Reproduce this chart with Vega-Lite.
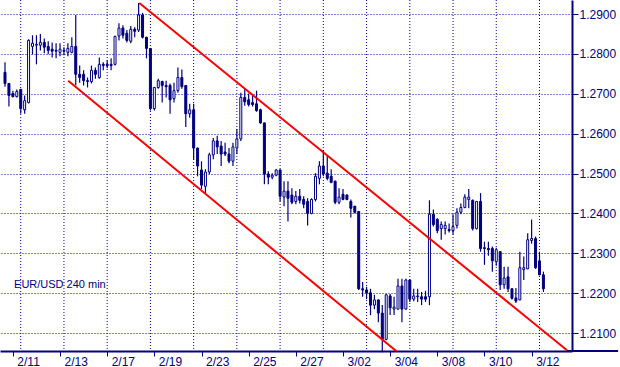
{
  "$schema": "https://vega.github.io/schema/vega-lite/v6.json",
  "width": 572,
  "height": 351,
  "autosize": {"type": "none"},
  "padding": {"left": 0, "top": 0, "right": 48, "bottom": 16},
  "background": "white",
  "config": {
    "view": {"stroke": null},
    "font": "Liberation Sans"
  },
  "datasets": {
    "candles": [
      {"k":0,"o":1.2754,"h":1.2779,"l":1.2718,"c":1.2726},
      {"k":1,"o":1.2726,"h":1.2727,"l":1.2668,"c":1.2696},
      {"k":2,"o":1.2701,"h":1.2708,"l":1.2691,"c":1.2693},
      {"k":3,"o":1.2693,"h":1.2711,"l":1.2691,"c":1.2706},
      {"k":4,"o":1.2711,"h":1.2713,"l":1.2650,"c":1.2663},
      {"k":5,"o":1.2660,"h":1.2696,"l":1.2650,"c":1.2683},
      {"k":6,"o":1.2678,"h":1.2837,"l":1.2676,"c":1.2834},
      {"k":7,"o":1.2819,"h":1.2847,"l":1.2799,"c":1.2827},
      {"k":8,"o":1.2822,"h":1.2847,"l":1.2774,"c":1.2824},
      {"k":9,"o":1.2822,"h":1.2850,"l":1.2809,"c":1.2829},
      {"k":10,"o":1.2829,"h":1.2839,"l":1.2802,"c":1.2817},
      {"k":11,"o":1.2819,"h":1.2832,"l":1.2799,"c":1.2809},
      {"k":12,"o":1.2812,"h":1.2829,"l":1.2791,"c":1.2807},
      {"k":13,"o":1.2809,"h":1.2827,"l":1.2789,"c":1.2807},
      {"k":14,"o":1.2804,"h":1.2827,"l":1.2794,"c":1.2812},
      {"k":15,"o":1.2809,"h":1.2817,"l":1.2797,"c":1.2807},
      {"k":16,"o":1.2804,"h":1.2827,"l":1.2794,"c":1.2814},
      {"k":17,"o":1.2804,"h":1.2842,"l":1.2802,"c":1.2819},
      {"k":18,"o":1.2819,"h":1.2898,"l":1.2721,"c":1.2749},
      {"k":19,"o":1.2749,"h":1.2771,"l":1.2728,"c":1.2741},
      {"k":20,"o":1.2749,"h":1.2759,"l":1.2721,"c":1.2733},
      {"k":21,"o":1.2733,"h":1.2741,"l":1.2716,"c":1.2731},
      {"k":22,"o":1.2731,"h":1.2771,"l":1.2726,"c":1.2759},
      {"k":23,"o":1.2759,"h":1.2766,"l":1.2738,"c":1.2749},
      {"k":24,"o":1.2741,"h":1.2791,"l":1.2738,"c":1.2774},
      {"k":25,"o":1.2774,"h":1.2779,"l":1.2759,"c":1.2771},
      {"k":26,"o":1.2774,"h":1.2784,"l":1.2764,"c":1.2771},
      {"k":27,"o":1.2774,"h":1.2789,"l":1.2759,"c":1.2771},
      {"k":28,"o":1.2774,"h":1.2846,"l":1.2771,"c":1.2844},
      {"k":29,"o":1.2845,"h":1.2877,"l":1.2834,"c":1.2865},
      {"k":30,"o":1.2865,"h":1.2872,"l":1.2839,"c":1.2847},
      {"k":31,"o":1.2852,"h":1.2860,"l":1.2829,"c":1.2834},
      {"k":32,"o":1.2832,"h":1.2870,"l":1.2827,"c":1.2862},
      {"k":33,"o":1.2862,"h":1.2867,"l":1.2842,"c":1.2857},
      {"k":34,"o":1.2860,"h":1.2928,"l":1.2855,"c":1.2898},
      {"k":35,"o":1.2898,"h":1.2903,"l":1.2839,"c":1.2842},
      {"k":36,"o":1.2842,"h":1.2843,"l":1.2789,"c":1.2814},
      {"k":37,"o":1.2814,"h":1.2815,"l":1.2658,"c":1.2663},
      {"k":38,"o":1.2663,"h":1.2717,"l":1.2658,"c":1.2716},
      {"k":39,"o":1.2716,"h":1.2738,"l":1.2713,"c":1.2733},
      {"k":40,"o":1.2731,"h":1.2733,"l":1.2678,"c":1.2721},
      {"k":41,"o":1.2721,"h":1.2733,"l":1.2691,"c":1.2718},
      {"k":42,"o":1.2721,"h":1.2726,"l":1.2650,"c":1.2685},
      {"k":43,"o":1.2688,"h":1.2728,"l":1.2678,"c":1.2708},
      {"k":44,"o":1.2708,"h":1.2766,"l":1.2703,"c":1.2741},
      {"k":45,"o":1.2741,"h":1.2761,"l":1.2713,"c":1.2718},
      {"k":46,"o":1.2721,"h":1.2722,"l":1.2617,"c":1.2650},
      {"k":47,"o":1.2650,"h":1.2675,"l":1.2640,"c":1.2660},
      {"k":48,"o":1.2660,"h":1.2675,"l":1.2534,"c":1.2564},
      {"k":49,"o":1.2564,"h":1.2565,"l":1.2493,"c":1.2519},
      {"k":50,"o":1.2509,"h":1.2531,"l":1.2461,"c":1.2471},
      {"k":51,"o":1.2468,"h":1.2511,"l":1.2451,"c":1.2504},
      {"k":52,"o":1.2504,"h":1.2552,"l":1.2499,"c":1.2547},
      {"k":53,"o":1.2547,"h":1.2589,"l":1.2536,"c":1.2582},
      {"k":54,"o":1.2582,"h":1.2595,"l":1.2549,"c":1.2567},
      {"k":55,"o":1.2569,"h":1.2582,"l":1.2519,"c":1.2549},
      {"k":56,"o":1.2554,"h":1.2577,"l":1.2544,"c":1.2549},
      {"k":57,"o":1.2549,"h":1.2564,"l":1.2526,"c":1.2531},
      {"k":58,"o":1.2531,"h":1.2577,"l":1.2519,"c":1.2567},
      {"k":59,"o":1.2564,"h":1.2612,"l":1.2549,"c":1.2587},
      {"k":60,"o":1.2587,"h":1.2703,"l":1.2582,"c":1.2691},
      {"k":61,"o":1.2691,"h":1.2713,"l":1.2670,"c":1.2680},
      {"k":62,"o":1.2685,"h":1.2701,"l":1.2668,"c":1.2673},
      {"k":63,"o":1.2678,"h":1.2696,"l":1.2668,"c":1.2673},
      {"k":64,"o":1.2675,"h":1.2708,"l":1.2655,"c":1.2658},
      {"k":65,"o":1.2660,"h":1.2663,"l":1.2625,"c":1.2627},
      {"k":66,"o":1.2627,"h":1.2628,"l":1.2473,"c":1.2499},
      {"k":67,"o":1.2499,"h":1.2506,"l":1.2473,"c":1.2491},
      {"k":68,"o":1.2491,"h":1.2501,"l":1.2486,"c":1.2496},
      {"k":69,"o":1.2496,"h":1.2511,"l":1.2493,"c":1.2509},
      {"k":70,"o":1.2509,"h":1.2511,"l":1.2430,"c":1.2443},
      {"k":71,"o":1.2441,"h":1.2481,"l":1.2418,"c":1.2456},
      {"k":72,"o":1.2456,"h":1.2481,"l":1.2380,"c":1.2438},
      {"k":73,"o":1.2446,"h":1.2463,"l":1.2423,"c":1.2428},
      {"k":74,"o":1.2430,"h":1.2456,"l":1.2423,"c":1.2443},
      {"k":75,"o":1.2443,"h":1.2461,"l":1.2425,"c":1.2433},
      {"k":76,"o":1.2435,"h":1.2443,"l":1.2413,"c":1.2423},
      {"k":77,"o":1.2430,"h":1.2438,"l":1.2370,"c":1.2400},
      {"k":78,"o":1.2400,"h":1.2438,"l":1.2398,"c":1.2435},
      {"k":79,"o":1.2435,"h":1.2501,"l":1.2430,"c":1.2493},
      {"k":80,"o":1.2488,"h":1.2531,"l":1.2473,"c":1.2519},
      {"k":81,"o":1.2519,"h":1.2559,"l":1.2493,"c":1.2499},
      {"k":82,"o":1.2501,"h":1.2544,"l":1.2483,"c":1.2488},
      {"k":83,"o":1.2493,"h":1.2511,"l":1.2476,"c":1.2478},
      {"k":84,"o":1.2481,"h":1.2482,"l":1.2423,"c":1.2428},
      {"k":85,"o":1.2428,"h":1.2463,"l":1.2423,"c":1.2441},
      {"k":86,"o":1.2448,"h":1.2461,"l":1.2433,"c":1.2435},
      {"k":87,"o":1.2446,"h":1.2448,"l":1.2433,"c":1.2435},
      {"k":88,"o":1.2430,"h":1.2435,"l":1.2390,"c":1.2413},
      {"k":89,"o":1.2418,"h":1.2419,"l":1.2400,"c":1.2403},
      {"k":90,"o":1.2405,"h":1.2406,"l":1.2208,"c":1.2211},
      {"k":91,"o":1.2211,"h":1.2228,"l":1.2191,"c":1.2208},
      {"k":92,"o":1.2208,"h":1.2216,"l":1.2185,"c":1.2201},
      {"k":93,"o":1.2201,"h":1.2211,"l":1.2145,"c":1.2170},
      {"k":94,"o":1.2170,"h":1.2196,"l":1.2160,"c":1.2183},
      {"k":95,"o":1.2183,"h":1.2184,"l":1.2127,"c":1.2150},
      {"k":96,"o":1.2150,"h":1.2170,"l":1.2052,"c":1.2084},
      {"k":97,"o":1.2084,"h":1.2197,"l":1.2082,"c":1.2196},
      {"k":98,"o":1.2193,"h":1.2198,"l":1.2145,"c":1.2163},
      {"k":99,"o":1.2160,"h":1.2191,"l":1.2145,"c":1.2165},
      {"k":100,"o":1.2160,"h":1.2236,"l":1.2159,"c":1.2218},
      {"k":101,"o":1.2218,"h":1.2236,"l":1.2127,"c":1.2160},
      {"k":102,"o":1.2160,"h":1.2236,"l":1.2159,"c":1.2233},
      {"k":103,"o":1.2233,"h":1.2234,"l":1.2178,"c":1.2185},
      {"k":104,"o":1.2185,"h":1.2211,"l":1.2180,"c":1.2193},
      {"k":105,"o":1.2191,"h":1.2211,"l":1.2178,"c":1.2193},
      {"k":106,"o":1.2191,"h":1.2203,"l":1.2170,"c":1.2185},
      {"k":107,"o":1.2191,"h":1.2206,"l":1.2178,"c":1.2185},
      {"k":108,"o":1.2191,"h":1.2433,"l":1.2170,"c":1.2398},
      {"k":109,"o":1.2398,"h":1.2410,"l":1.2367,"c":1.2372},
      {"k":110,"o":1.2385,"h":1.2388,"l":1.2350,"c":1.2357},
      {"k":111,"o":1.2362,"h":1.2380,"l":1.2334,"c":1.2372},
      {"k":112,"o":1.2362,"h":1.2380,"l":1.2347,"c":1.2370},
      {"k":113,"o":1.2360,"h":1.2375,"l":1.2352,"c":1.2357},
      {"k":114,"o":1.2357,"h":1.2398,"l":1.2347,"c":1.2367},
      {"k":115,"o":1.2370,"h":1.2413,"l":1.2362,"c":1.2403},
      {"k":116,"o":1.2403,"h":1.2425,"l":1.2398,"c":1.2415},
      {"k":117,"o":1.2415,"h":1.2448,"l":1.2413,"c":1.2441},
      {"k":118,"o":1.2435,"h":1.2461,"l":1.2413,"c":1.2441},
      {"k":119,"o":1.2433,"h":1.2435,"l":1.2357,"c":1.2362},
      {"k":120,"o":1.2362,"h":1.2431,"l":1.2360,"c":1.2430},
      {"k":121,"o":1.2430,"h":1.2451,"l":1.2304,"c":1.2312},
      {"k":122,"o":1.2314,"h":1.2329,"l":1.2271,"c":1.2312},
      {"k":123,"o":1.2312,"h":1.2329,"l":1.2294,"c":1.2309},
      {"k":124,"o":1.2312,"h":1.2317,"l":1.2254,"c":1.2281},
      {"k":125,"o":1.2279,"h":1.2314,"l":1.2269,"c":1.2309},
      {"k":126,"o":1.2304,"h":1.2305,"l":1.2208,"c":1.2221},
      {"k":127,"o":1.2221,"h":1.2266,"l":1.2211,"c":1.2238},
      {"k":128,"o":1.2241,"h":1.2266,"l":1.2203,"c":1.2211},
      {"k":129,"o":1.2211,"h":1.2213,"l":1.2184,"c":1.2187},
      {"k":130,"o":1.2188,"h":1.2213,"l":1.2175,"c":1.2180},
      {"k":131,"o":1.2183,"h":1.2304,"l":1.2182,"c":1.2264},
      {"k":132,"o":1.2259,"h":1.2292,"l":1.2233,"c":1.2264},
      {"k":133,"o":1.2261,"h":1.2350,"l":1.2260,"c":1.2334},
      {"k":134,"o":1.2332,"h":1.2385,"l":1.2324,"c":1.2337},
      {"k":135,"o":1.2337,"h":1.2342,"l":1.2261,"c":1.2264},
      {"k":136,"o":1.2281,"h":1.2304,"l":1.2245,"c":1.2246},
      {"k":137,"o":1.2246,"h":1.2254,"l":1.2203,"c":1.2211}
    ],
    "channel": [
      {"line":"upper","k":34.17,"p":1.2928},
      {"line":"upper","k":143,"p":1.2057},
      {"line":"lower","k":16.08,"p":1.2733},
      {"line":"lower","k":100.5,"p":1.2047}
    ],
    "vgrid": [
      {"k":4},{"k":15},{"k":26},{"k":37},{"k":48},{"k":59},{"k":70},
      {"k":81},{"k":92},{"k":103},{"k":114},{"k":125},{"k":136}
    ],
    "caption": [
      {"label": "EUR/USD 240 min"}
    ]
  },
  "layer": [
    {
      "data": {"name": "vgrid"},
      "mark": {"type": "rule", "color": "#0000A0", "strokeWidth": 1, "strokeDash": [1, 2]},
      "encoding": {
        "x": {
          "field": "k", "type": "quantitative",
          "scale": {"domain": [0, 143], "nice": false, "zero": false},
          "axis": {
            "orient": "bottom",
            "values": [2,8,14,20,26,32,38,44,50,56,62,68,74,80,86,92,98,104,110,116,122,128,134,140],
            "labelExpr": "['2/11','','2/13','','2/17','','2/19','','2/23','','2/25','','2/27','','3/02','','3/04','','3/08','','3/10','','3/12',''][round((datum.value-2)/6)]",
            "grid": false,
            "title": null,
            "domainColor": "#000080",
            "domainWidth": 2,
            "tickColor": "#000080",
            "tickWidth": 1,
            "tickSize": 5,
            "labelColor": "#000080",
            "labelFont": "Liberation Sans",
            "labelFontSize": 12,
            "labelAlign": "left",
            "labelOffset": 4,
            "labelPadding": 0,
            "labelOverlap": false,
            "labelBound": false,
            "labelFlush": false
          }
        }
      }
    },
    {
      "data": {"name": "candles"},
      "mark": {"type": "rule", "color": "#000080", "strokeWidth": 1.2},
      "encoding": {
        "x": {"field": "k", "type": "quantitative"},
        "y": {
          "field": "l", "type": "quantitative",
          "scale": {"domain": [1.20549, 1.29354], "nice": false, "zero": false},
          "axis": {
            "orient": "right",
            "values": [1.21, 1.22, 1.23, 1.24, 1.25, 1.26, 1.27, 1.28, 1.29],
            "format": ".4f",
            "title": null,
            "grid": true,
            "gridColor": "#0000A0",
            "gridDash": [1, 2],
            "gridWidth": 1,
            "domainColor": "#000080",
            "domainWidth": 2,
            "tickColor": "#000080",
            "tickWidth": 1,
            "tickSize": 6,
            "labelColor": "#000080",
            "labelFont": "Liberation Sans",
            "labelFontSize": 12,
            "labelPadding": 1,
            "labelOverlap": false,
            "labelBound": false,
            "labelFlush": false
          }
        },
        "y2": {"field": "h"}
      }
    },
    {
      "data": {"name": "candles"},
      "mark": {"type": "bar", "size": 2, "stroke": "#000080", "strokeWidth": 1},
      "encoding": {
        "x": {"field": "k", "type": "quantitative"},
        "y": {"field": "o", "type": "quantitative"},
        "y2": {"field": "c"},
        "fill": {
          "condition": {"test": "datum.c > datum.o", "value": "white"},
          "value": "#000080"
        }
      }
    },
    {
      "data": {"name": "channel"},
      "mark": {"type": "line", "color": "#FF0000", "strokeWidth": 2, "clip": true},
      "encoding": {
        "x": {"field": "k", "type": "quantitative"},
        "y": {"field": "p", "type": "quantitative"},
        "detail": {"field": "line"}
      }
    },
    {
      "data": {"name": "caption"},
      "mark": {"type": "text", "align": "left", "baseline": "middle", "font": "Liberation Sans", "fontSize": 11, "color": "#000080"},
      "encoding": {
        "text": {"field": "label"},
        "x": {"datum": 2.3, "type": "quantitative"},
        "y": {"datum": 1.2221, "type": "quantitative"}
      }
    },
    {
      "data": {"name": "caption"},
      "mark": {"type": "rule", "color": "#000080", "strokeWidth": 2},
      "encoding": {
        "x": {"datum": 143, "type": "quantitative"},
        "x2": {"datum": 156},
        "y": {"datum": 1.20549, "type": "quantitative"}
      }
    }
  ]
}
